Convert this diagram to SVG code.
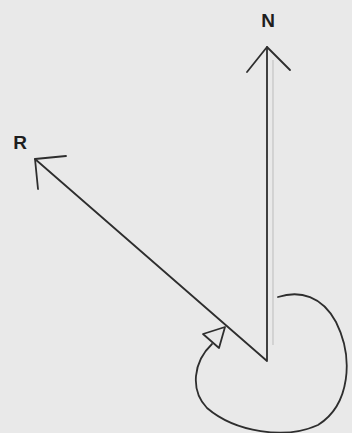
<svg xmlns="http://www.w3.org/2000/svg" width="352" height="433" viewBox="0 0 352 433">
<style>
.bg{fill:#e9e9e9}
.ln{fill:none;stroke:#2e2e2e;stroke-width:1.8;stroke-linecap:round;stroke-linejoin:round}
.faint{fill:none;stroke:#c4c4c4;stroke-width:1.2}
.lbl{font-family:"Liberation Sans",Arial,sans-serif;font-weight:bold;font-size:19px;fill:#1e1e1e}
</style>
<rect class="bg" x="0" y="0" width="352" height="433"/>
<g id="node-N">
<text class="lbl" x="268" y="27" text-anchor="middle">N</text>
</g>
<g id="node-R">
<text class="lbl" x="20" y="149" text-anchor="middle">R</text>
</g>
<g id="connectors">
<line class="faint" x1="273" y1="60" x2="273" y2="345"/>
<path class="ln" d="M267 47 L267 361 L35 159"/>
<path class="ln" d="M247 72 L267 47 L290 70"/>
<path class="ln" d="M66 156 L35 159 L38 189"/>
<path class="ln" d="M278 297 C300 290 322 296 336 322 C354 358 350 405 318 425 C285 440 235 432 207 408 C190 390 193 362 212 344"/>
<path class="ln" d="M203 334 L225 327 L219 348 Z"/>
</g>
</svg>
